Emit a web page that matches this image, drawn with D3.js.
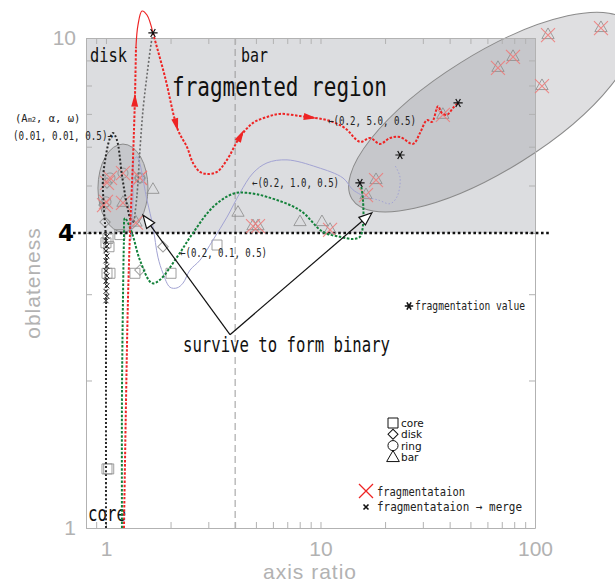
<!DOCTYPE html>
<html>
<head>
<meta charset="utf-8">
<script src="https://cdn.jsdelivr.net/npm/d3@7"></script>
<style>
  body { margin: 0; background: #fff; }
  svg { display: block; }
</style>
</head>
<body>
<div id="container"></div>
<script>
  const width = 615;
  const height = 583;

  // axes
  const xTicks = [0.9, 1, 2, 3, 4, 5, 6, 7, 8, 9, 10, 20, 30, 40, 50, 60, 70, 80, 90, 100];
  const xLabels = [1, 10, 100];
  const yTicks = [1, 2, 3, 4, 5, 6, 7, 8, 9, 10];
  const yLabels = [1, 10];
  const oblLimit = 4;   // above this: fragmented region
  const barLimit = 4;   // axis ratio disk | bar

  // tracks, [axis ratio, oblateness]
  const redRise = [[1.213, 1.0], [1.24, 1.82], [1.266, 2.92], [1.294, 4.0], [1.336, 5.64], [1.365, 7.58], [1.38, 9.6]];
  const redPeak = [[1.38, 9.6], [1.41, 10.63], [1.472, 11.35], [1.553, 11.14], [1.656, 10.24]];
  const redFall = [[1.656, 10.24], [1.884, 8.33], [2.166, 6.49], [2.386, 5.99], [2.544, 5.56], [2.743, 5.33],
    [2.957, 5.28], [3.293, 5.33], [3.665, 5.64], [4.215, 6.28], [4.845, 6.71], [5.63, 6.9], [6.477, 7.0],
    [8.025, 6.93], [9.42, 6.87], [11.08, 6.77], [13.0, 6.55], [15.28, 6.14], [17.02, 6.25], [18.94, 6.08],
    [21.09, 6.25], [23.48, 6.28], [27.0, 6.08], [29.1, 6.4], [31.37, 6.8], [33.1, 6.74], [35.3, 7.26],
    [36.8, 7.03], [38.9, 6.97], [41.5, 7.2], [43.8, 7.37]];
  // [from, to] pairs, arrow tip at "to"
  const redArrows = [
    [[1.355, 6.6], [1.365, 7.7]],
    [[1.95, 7.7], [2.166, 6.45]],
    [[3.9, 5.9], [4.4, 6.5]],
    [[8.0, 6.93], [9.6, 6.86]]
  ];
  const greenTrack = [[1.187, 1.0], [1.187, 1.82], [1.2, 2.92], [1.213, 3.87], [1.226, 4.29], [1.322, 4.0],
    [1.44, 3.52], [1.638, 3.16], [1.785, 3.21], [2.143, 3.57], [2.544, 4.0], [3.154, 4.52], [3.91, 4.81],
    [4.54, 4.83], [5.63, 4.74], [8.025, 4.45], [10.27, 4.02], [12.33, 3.93], [14.17, 3.89], [15.28, 3.93],
    [15.78, 4.15], [15.78, 4.67], [15.45, 5.01]];
  const blueTrack = [[1.308, 3.87], [1.336, 4.67], [1.351, 5.64], [1.395, 5.72], [1.553, 4.67], [1.656, 4.12],
    [1.747, 3.57], [1.844, 3.31], [1.988, 3.1], [2.143, 3.09], [2.286, 3.16], [2.464, 3.36], [2.743, 3.52],
    [3.154, 3.87], [3.665, 4.31], [4.215, 4.83], [4.845, 5.3], [5.63, 5.56], [6.98, 5.64], [9.63, 5.45],
    [12.73, 5.18], [14.17, 4.9], [16.13, 4.74]];
  const blueTail = [[16.13, 4.74], [18.6, 4.67], [21.09, 4.59], [22.73, 4.74], [23.48, 5.2], [22.2, 5.5]];
  const blackTrack = [[1.0, 1.0], [1.0, 2.54], [1.0, 3.87], [0.979, 4.46], [0.968, 5.13], [1.0, 5.77],
    [1.044, 6.25], [1.078, 6.4], [1.125, 6.19], [1.187, 5.25], [1.253, 4.56], [1.308, 4.25], [1.351, 4.21]];
  const blackReturn = [[1.351, 4.21], [1.395, 4.78], [1.44, 5.91], [1.488, 7.13], [1.553, 8.4], [1.62, 9.68], [1.656, 10.24]];
  const mergeX = [[1.01, 3.94], [1.0, 3.85], [1.01, 3.76], [1.0, 3.68], [1.01, 3.59], [1.0, 3.51], [1.01, 3.42],
    [1.0, 3.35], [1.01, 3.27], [1.0, 3.19], [1.01, 3.12], [1.0, 3.04], [1.01, 2.97], [1.0, 2.91]];
  const stars = [[1.656, 10.24], [43.8, 7.37], [23.48, 5.77], [15.28, 5.06]];

  // morphology marks, [axis ratio, oblateness, fragmented]
  const coreMarks = [[1.022, 3.9, 0], [1.033, 3.75, 0], [1.0, 3.82, 0], [1.16, 3.97, 0], [1.011, 3.31, 0],
    [1.044, 3.31, 0], [1.365, 3.31, 0], [2.01, 3.31, 0], [3.293, 3.78, 0], [1.011, 1.32, 0], [1.03, 1.32, 0]];
  const diskMarks = [[1.011, 5.06, 1], [0.979, 4.56, 1], [0.99, 4.21, 0], [1.44, 5.18, 1], [1.44, 3.36, 0], [1.844, 3.75, 0]];
  const ringMarks = [[1.044, 5.18, 1], [1.2, 5.3, 1], [1.44, 5.18, 1], [1.0, 4.63, 1]];
  const barMarks = [[1.656, 4.9, 0], [1.2, 4.61, 1], [1.38, 4.2, 1], [4.125, 4.4, 0], [4.845, 4.13, 1],
    [5.113, 4.13, 1], [8.025, 4.21, 0], [10.16, 4.21, 0], [11.08, 4.06, 1], [16.3, 4.78, 1], [18.15, 5.13, 1],
    [37.2, 6.97, 1], [67.2, 8.69, 1], [78.97, 9.15, 1], [107.8, 7.98, 1], [115, 10.14, 1], [203, 10.48, 1]];

  // the two grouping ellipses (centre)
  const ellipseCenters = [[1.2, 4.94], [62.4, 7.06]];

  // survive-to-form-binary arrows
  const surviveFrom = [3.785, 2.48];
  const surviveTo = [[1.488, 4.35], [17.38, 4.4]];

  const x = d3.scaleLog().domain([0.807, 100]).range([86, 535]);
  const y = d3.scaleLog().domain([1, 10]).range([528, 38]);

  const svg = d3.create("svg")
    .attr("width", width)
    .attr("height", height)
    .style("font-family", "DejaVu Sans Mono");

  const mono = "DejaVu Sans Mono";
  const axisGray = "#b2b2b2";

  // fragmented region background
  svg.append("rect")
    .attr("x", x(0.807)).attr("y", y(10))
    .attr("width", x(100) - x(0.807))
    .attr("height", y(oblLimit) - y(10))
    .attr("fill", "#dcdde0");

  // ellipses
  const ellSize = [[25, 44, 0], [164, 58, -32]];
  svg.selectAll(".ell").data(ellipseCenters).join("ellipse")
    .attr("class", "ell")
    .attr("rx", (d, i) => ellSize[i][0])
    .attr("ry", (d, i) => ellSize[i][1])
    .attr("transform", (d, i) => `translate(${x(d[0])},${y(d[1])}) rotate(${ellSize[i][2]})`)
    .attr("fill", "rgba(150,150,156,0.3)")
    .attr("stroke", "#8a8a8a")
    .attr("stroke-width", 1);

  // disk / bar divider
  svg.append("line")
    .attr("x1", x(barLimit)).attr("x2", x(barLimit))
    .attr("y1", y(10)).attr("y2", y(1))
    .attr("stroke", "#999").attr("stroke-width", 1)
    .attr("stroke-dasharray", "7,4");

  // axes
  const styleAxis = g => {
    g.selectAll("path, line").attr("stroke", axisGray);
    g.selectAll("text").attr("fill", axisGray)
      .style("font-family", "Liberation Sans").style("font-size", "21px");
  };
  svg.append("g").attr("transform", `translate(0,${y(1)})`)
    .call(d3.axisBottom(x).tickValues(xTicks).tickSizeInner(-6).tickSizeOuter(0).tickPadding(13)
      .tickFormat(d => xLabels.includes(d) ? d : ""))
    .call(styleAxis);
  svg.append("g").attr("transform", `translate(0,${y(10)})`)
    .call(d3.axisTop(x).tickValues(xTicks).tickSizeInner(-6).tickSizeOuter(0).tickFormat(""))
    .call(styleAxis);
  svg.append("g").attr("transform", `translate(${x(0.807)},0)`)
    .call(d3.axisLeft(y).tickValues(yTicks).tickSizeInner(-6).tickSizeOuter(0).tickPadding(10)
      .tickFormat(d => yLabels.includes(d) ? d : ""))
    .call(styleAxis);
  svg.append("g").attr("transform", `translate(${x(100)},0)`)
    .call(d3.axisRight(y).tickValues(yTicks).tickSizeInner(-6).tickSizeOuter(0).tickFormat(""))
    .call(styleAxis);

  svg.append("text")
    .attr("x", 310).attr("y", 579)
    .attr("text-anchor", "middle")
    .attr("fill", axisGray)
    .style("font-family", "Liberation Sans").style("font-size", "21px")
    .style("letter-spacing", "1px")
    .text("axis ratio");
  svg.append("text")
    .attr("transform", "translate(40,283) rotate(-90)")
    .attr("text-anchor", "middle")
    .attr("fill", axisGray)
    .style("font-family", "Liberation Sans").style("font-size", "21px")
    .style("letter-spacing", "1px")
    .text("oblateness");

  // oblateness = 4 line
  svg.append("line")
    .attr("x1", 73).attr("x2", 551)
    .attr("y1", y(oblLimit)).attr("y2", y(oblLimit))
    .attr("stroke", "#111").attr("stroke-width", 2.6)
    .attr("stroke-dasharray", "2.6,2.6");
  svg.append("text")
    .attr("x", 66).attr("y", y(oblLimit) + 8)
    .attr("text-anchor", "middle")
    .style("font-family", "DejaVu Sans").style("font-size", "23px").style("font-weight", "bold")
    .text(oblLimit);

  // region labels
  const label = (txt, px, py, size, len) => svg.append("text")
    .attr("x", px).attr("y", py)
    .style("font-family", mono).style("font-size", size + "px")
    .attr("textLength", len).attr("lengthAdjust", "spacingAndGlyphs")
    .attr("fill", "#111")
    .text(txt);
  label("disk", 90, 62, 20, 37);
  label("bar", 241, 62, 20, 27);
  label("fragmented region", 172, 96, 26, 215);
  label("core", 88, 521, 22, 38);
  label("survive to form binary", 183, 352, 21, 207);

  // tracks
  const line = d3.line()
    .x(d => x(d[0]))
    .y(d => y(d[1]))
    .curve(d3.curveCatmullRom.alpha(0.5));
  const track = (data, color, w, dash) => svg.append("path")
    .attr("d", line(data))
    .attr("fill", "none")
    .attr("stroke", color)
    .attr("stroke-width", w)
    .attr("stroke-dasharray", dash);

  // marks
  const markGray = "#8e8e8e";
  const drawMarks = (data, type, size, rot) => svg.append("g").selectAll("path").data(data).join("path")
    .attr("d", d3.symbol().type(type).size(size))
    .attr("transform", d => `translate(${x(d[0])},${y(d[1])}) rotate(${rot})`)
    .attr("fill", "none")
    .attr("stroke", markGray)
    .attr("stroke-width", 1)
    .attr("opacity", 0.85);
  drawMarks(coreMarks, d3.symbolSquare, 100, 0);
  drawMarks(diskMarks, d3.symbolSquare, 55, 45);
  drawMarks(ringMarks, d3.symbolCircle, 80, 0);
  drawMarks(barMarks, d3.symbolTriangle, 65, 0);

  const fragged = [...coreMarks, ...diskMarks, ...ringMarks, ...barMarks].filter(d => d[2]);
  svg.append("g").selectAll("path").data(fragged).join("path")
    .attr("d", "M-7,-7L7,7M-7,7L7,-7")
    .attr("transform", d => `translate(${x(d[0])},${y(d[1])})`)
    .attr("stroke", "#f07a78")
    .attr("stroke-width", 1.1)
    .attr("opacity", 0.85);

  track(blackTrack, "#2a2a2a", 2, "2,2");
  track(blackReturn, "#6a6a6a", 1.6, "2,2");
  track(blueTrack, "#a2a3d3", 1, null);
  track(blueTail, "#a2a3d3", 1, "1.5,2");
  track(greenTrack, "#13813a", 2, "2.5,1.6");
  track(redRise, "#ee2424", 2, "2.5,1.6");
  track(redPeak, "#ee2424", 1.2, null);
  track(redFall, "#ee2424", 2, "2.5,1.6");

  // red direction arrows
  svg.append("g").selectAll("path").data(redArrows).join("path")
    .attr("d", "M0,0L-13,-3.5L-13,3.5Z")
    .attr("transform", d => {
      const x0 = x(d[0][0]), y0 = y(d[0][1]), x1 = x(d[1][0]), y1 = y(d[1][1]);
      const a = Math.atan2(y1 - y0, x1 - x0) * 180 / Math.PI;
      return `translate(${x1},${y1}) rotate(${a})`;
    })
    .attr("fill", "#ee2424");

  // merge markers
  svg.append("g").selectAll("path").data(mergeX).join("path")
    .attr("d", "M-2.5,-2.5L2.5,2.5M-2.5,2.5L2.5,-2.5")
    .attr("transform", d => `translate(${x(d[0])},${y(d[1])})`)
    .attr("stroke", "#222").attr("stroke-width", 1);

  // fragmentation stars
  svg.append("g").selectAll("path").data(stars).join("path")
    .attr("d", d3.symbol().type(d3.symbolAsterisk).size(60))
    .attr("transform", d => `translate(${x(d[0])},${y(d[1])}) rotate(90)`)
    .attr("stroke", "#111").attr("stroke-width", 1.2);

  // survive arrows
  surviveTo.forEach(t => {
    const x0 = x(surviveFrom[0]), y0 = y(surviveFrom[1]), x1 = x(t[0]), y1 = y(t[1]);
    const a = Math.atan2(y1 - y0, x1 - x0);
    svg.append("line")
      .attr("x1", x0).attr("y1", y0)
      .attr("x2", x1 - 12 * Math.cos(a)).attr("y2", y1 - 12 * Math.sin(a))
      .attr("stroke", "#111").attr("stroke-width", 1.2);
    svg.append("path")
      .attr("d", "M0,0L-13,-5L-13,5Z")
      .attr("transform", `translate(${x1},${y1}) rotate(${a * 180 / Math.PI})`)
      .attr("fill", "#fff").attr("stroke", "#111").attr("stroke-width", 1.2);
  });

  // parameter labels
  const small = (px, py, len) => svg.append("text")
    .attr("x", px).attr("y", py)
    .style("font-family", mono).style("font-size", "12px")
    .attr("textLength", len).attr("lengthAdjust", "spacingAndGlyphs")
    .attr("fill", "#222");
  const head = svg.append("text")
    .attr("x", 15).attr("y", 122)
    .style("font-family", mono).style("font-size", "10.5px")
    .attr("fill", "#222");
  head.append("tspan").text("(A");
  head.append("tspan").style("font-size", "7px").text("m2");
  head.append("tspan").text(", α, ω)");
  small(13, 140, 100).text("(0.01, 0.01, 0.5)→");
  small(328, 125, 88).text("←(0.2, 5.0, 0.5)");
  small(252, 187, 87).text("←(0.2, 1.0, 0.5)");
  small(180, 257, 87).text("←(0.2, 0.1, 0.5)");

  // star legend
  svg.append("path")
    .attr("d", d3.symbol().type(d3.symbolAsterisk).size(50))
    .attr("transform", "translate(409,306) rotate(90)")
    .attr("stroke", "#111").attr("stroke-width", 1.6);
  small(415, 310, 110).text("fragmentation value");

  // morphology legend
  const legend = [["core", d3.symbolSquare, 100, 0], ["disk", d3.symbolSquare, 50, 45],
    ["ring", d3.symbolCircle, 80, 0], ["bar", d3.symbolTriangle, 70, 0]];
  legend.forEach((l, i) => {
    const ly = 423 + i * 11.3;
    svg.append("path")
      .attr("d", d3.symbol().type(l[1]).size(l[2]))
      .attr("transform", `translate(393,${ly + (i === 3 ? 1 : 0)}) rotate(${l[3]})`)
      .attr("fill", "none").attr("stroke", "#111").attr("stroke-width", 1);
    svg.append("text")
      .attr("x", 401).attr("y", ly + 4)
      .style("font-family", "DejaVu Sans").style("font-size", "10.5px")
      .attr("fill", "#111")
      .text(l[0]);
  });

  svg.append("path")
    .attr("d", "M-7,-7L7,7M-7,7L7,-7")
    .attr("transform", "translate(366,491)")
    .attr("stroke", "#ee2424").attr("stroke-width", 1.3);
  small(377, 496, 88).text("fragmentataion");
  svg.append("path")
    .attr("d", "M-2.5,-2.5L2.5,2.5M-2.5,2.5L2.5,-2.5")
    .attr("transform", "translate(366,507)")
    .attr("stroke", "#111").attr("stroke-width", 1.6);
  small(377, 511, 145).text("fragmentataion → merge");

  container.appendChild(svg.node());
</script>
</body>
</html>
